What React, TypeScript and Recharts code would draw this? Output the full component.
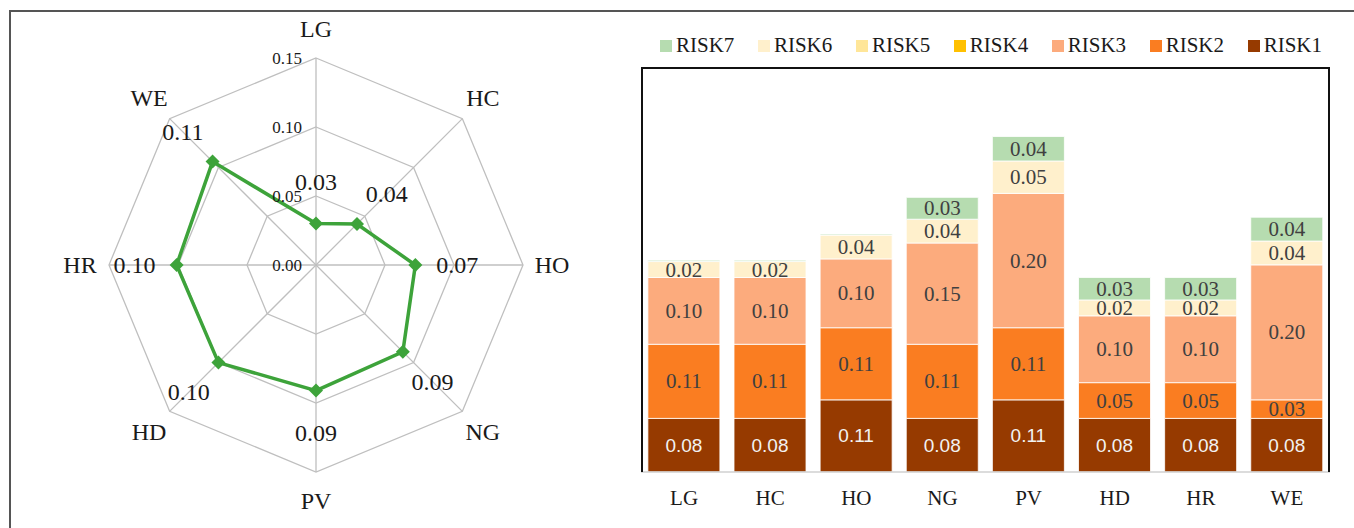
import React from "react";
import {
  RadarChart,
  Radar,
  PolarGrid,
  PolarAngleAxis,
  PolarRadiusAxis,
  BarChart,
  Bar,
  XAxis,
  YAxis,
  LabelList,
} from "recharts";

const categories = ["LG", "HC", "HO", "NG", "PV", "HD", "HR", "WE"];

// radar values (left panel)
const radarValues = [0.03, 0.042, 0.072, 0.089, 0.091, 0.1, 0.101, 0.106];
const radarTicks = [0, 0.05, 0.1, 0.15];

// stacked risk shares (right panel)
const risk1 = [0.081, 0.081, 0.109, 0.081, 0.109, 0.081, 0.081, 0.081];
const risk2 = [0.112, 0.112, 0.109, 0.112, 0.109, 0.054, 0.054, 0.028];
const risk3 = [0.101, 0.101, 0.104, 0.153, 0.203, 0.101, 0.101, 0.204];
const risk4 = [0, 0, 0, 0, 0, 0, 0, 0];
const risk5 = [0, 0, 0, 0, 0, 0, 0, 0];
const risk6 = [0.024, 0.024, 0.036, 0.036, 0.049, 0.024, 0.024, 0.036];
const risk7 = [0.002, 0.002, 0.0015, 0.033, 0.037, 0.034, 0.034, 0.036];

const seriesNames = ["RISK1", "RISK2", "RISK3", "RISK4", "RISK5", "RISK6", "RISK7"];
const seriesValues = [risk1, risk2, risk3, risk4, risk5, risk6, risk7];
const seriesColors = ["#963a00", "#fa7d21", "#fcab7d", "#ffc000", "#ffe699", "#fff0cc", "#b6dcb0"];

const SERIF = "'Liberation Serif', 'DejaVu Serif', serif";
const SANS = "'Liberation Sans', Arial, sans-serif";

const CX = 316;
const CY = 265;
const OUTER = 207;
const RAD = Math.PI / 180;

const radarData = categories.map((c, i) => ({ cat: c, value: radarValues[i] }));

const barData = categories.map((c, i) => {
  const row: Record<string, number | string> = { cat: c };
  seriesNames.forEach((s, k) => {
    row[s] = seriesValues[k][i];
  });
  return row;
});

function AngleTick(props: any) {
  const angle = props.payload.coordinate;
  const r = 236;
  const x = CX + r * Math.cos(-angle * RAD);
  const y = CY + r * Math.sin(-angle * RAD);
  return (
    <text x={x} y={y} textAnchor="middle" dominantBaseline="central" fontFamily={SERIF} fontSize={24} fill="#1a1a1a">
      {props.payload.value}
    </text>
  );
}

function RadiusTick(props: any) {
  return (
    <text x={props.x - 14} y={props.y} textAnchor="end" dominantBaseline="central" fontFamily={SERIF} fontSize={17} fill="#1a1a1a">
      {Number(props.payload.value).toFixed(2)}
    </text>
  );
}

function DiamondDot(props: any) {
  const { cx, cy, index } = props;
  const s = 7;
  const dx = cx - CX;
  const dy = cy - CY;
  const len = Math.sqrt(dx * dx + dy * dy) || 1;
  const lx = cx + (dx / len) * 42;
  const ly = cy + (dy / len) * 42;
  return (
    <g key={`d-${index}`}>
      <path d={`M${cx},${cy - s} L${cx + s},${cy} L${cx},${cy + s} L${cx - s},${cy} Z`} fill="#3da33a" />
      <text x={lx} y={ly} textAnchor="middle" dominantBaseline="central" fontFamily={SERIF} fontSize={24} fill="#1a1a1a">
        {radarValues[index].toFixed(2)}
      </text>
    </g>
  );
}

function XTick(props: any) {
  return (
    <text x={props.x} y={props.y + 24} textAnchor="middle" dominantBaseline="central" fontFamily={SERIF} fontSize={21} fill="#1a1a1a">
      {props.payload.value}
    </text>
  );
}

function makeLabel(dark: boolean) {
  return (props: any) => {
    const { x, y, width, height, value } = props;
    if (value == null || value < 0.005) return null;
    return (
      <text
        x={x + width / 2}
        y={y + height / 2}
        textAnchor="middle"
        dominantBaseline="central"
        fontFamily={dark ? SANS : SERIF}
        fontSize={dark ? 19 : 21}
        fill={dark ? "#f2f2f2" : "#404040"}
      >
        {Number(value).toFixed(2)}
      </text>
    );
  };
}

export default function App() {
  return (
    <div style={{ position: "absolute", left: 0, top: 0, width: 1354, height: 528, background: "#fff", overflow: "hidden" }}>
      <div
        style={{
          position: "absolute",
          left: 9,
          top: 10,
          width: 1400,
          height: 600,
          borderTop: "2px solid #555",
          borderLeft: "2px solid #555",
        }}
      />
      <div style={{ position: "absolute", left: 0, top: 0 }}>
        <RadarChart width={620} height={528} data={radarData} cx={CX} cy={CY} outerRadius={OUTER} margin={{ top: 0, right: 0, bottom: 0, left: 0 }}>
          <PolarGrid gridType="polygon" stroke="#bfbfbf" strokeWidth={1.3} />
          <PolarAngleAxis dataKey="cat" tick={AngleTick} tickLine={false} axisLine={false} />
          <PolarRadiusAxis
            angle={90}
            domain={[0, 0.15]}
            ticks={radarTicks}
            tick={RadiusTick}
            axisLine={false}
            tickLine={false}
          />
          <Radar
            dataKey="value"
            stroke="#3da33a"
            strokeWidth={3.5}
            fill="none"
            fillOpacity={0}
            dot={DiamondDot}
            isAnimationActive={false}
          />
        </RadarChart>
      </div>

      <div
        style={{
          position: "absolute",
          left: 660,
          top: 33,
          width: 662,
          display: "flex",
          justifyContent: "space-between",
          alignItems: "center",
          fontFamily: SERIF,
          fontSize: 21,
          color: "#1a1a1a",
        }}
      >
        {seriesNames
          .slice()
          .reverse()
          .map((name) => {
            const k = seriesNames.indexOf(name);
            return (
              <div key={name} style={{ display: "flex", alignItems: "center" }}>
                <span style={{ width: 12, height: 12, background: seriesColors[k], marginRight: 4, display: "inline-block" }} />
                <span>{name}</span>
              </div>
            );
          })}
      </div>

      <div style={{ position: "absolute", left: 600, top: 0 }}>
        <BarChart
          width={754}
          height={528}
          data={barData}
          margin={{ top: 67, right: 24, bottom: 26, left: 41 }}
          barCategoryGap="8%"
        >
          <XAxis
            dataKey="cat"
            height={30}
            tickLine={false}
            tickSize={0}
            axisLine={{ stroke: "#d0d0d0", strokeWidth: 1.5 }}
            tick={XTick}
          />
          <YAxis hide domain={[0, 0.612]} type="number" allowDataOverflow />
          {seriesNames.map((name, k) => (
            <Bar
              key={name}
              dataKey={name}
              stackId="risk"
              fill={seriesColors[k]}
              stroke="#ffffff"
              strokeWidth={0.8}
              isAnimationActive={false}
            >
              <LabelList dataKey={name} content={makeLabel(k === 0)} />
            </Bar>
          ))}
        </BarChart>
      </div>

      <div
        style={{
          position: "absolute",
          left: 641,
          top: 67,
          width: 689,
          height: 405,
          boxSizing: "border-box",
          borderTop: "2px solid #111",
          borderLeft: "2px solid #111",
          borderRight: "2px solid #111",
          pointerEvents: "none",
        }}
      />
    </div>
  );
}
